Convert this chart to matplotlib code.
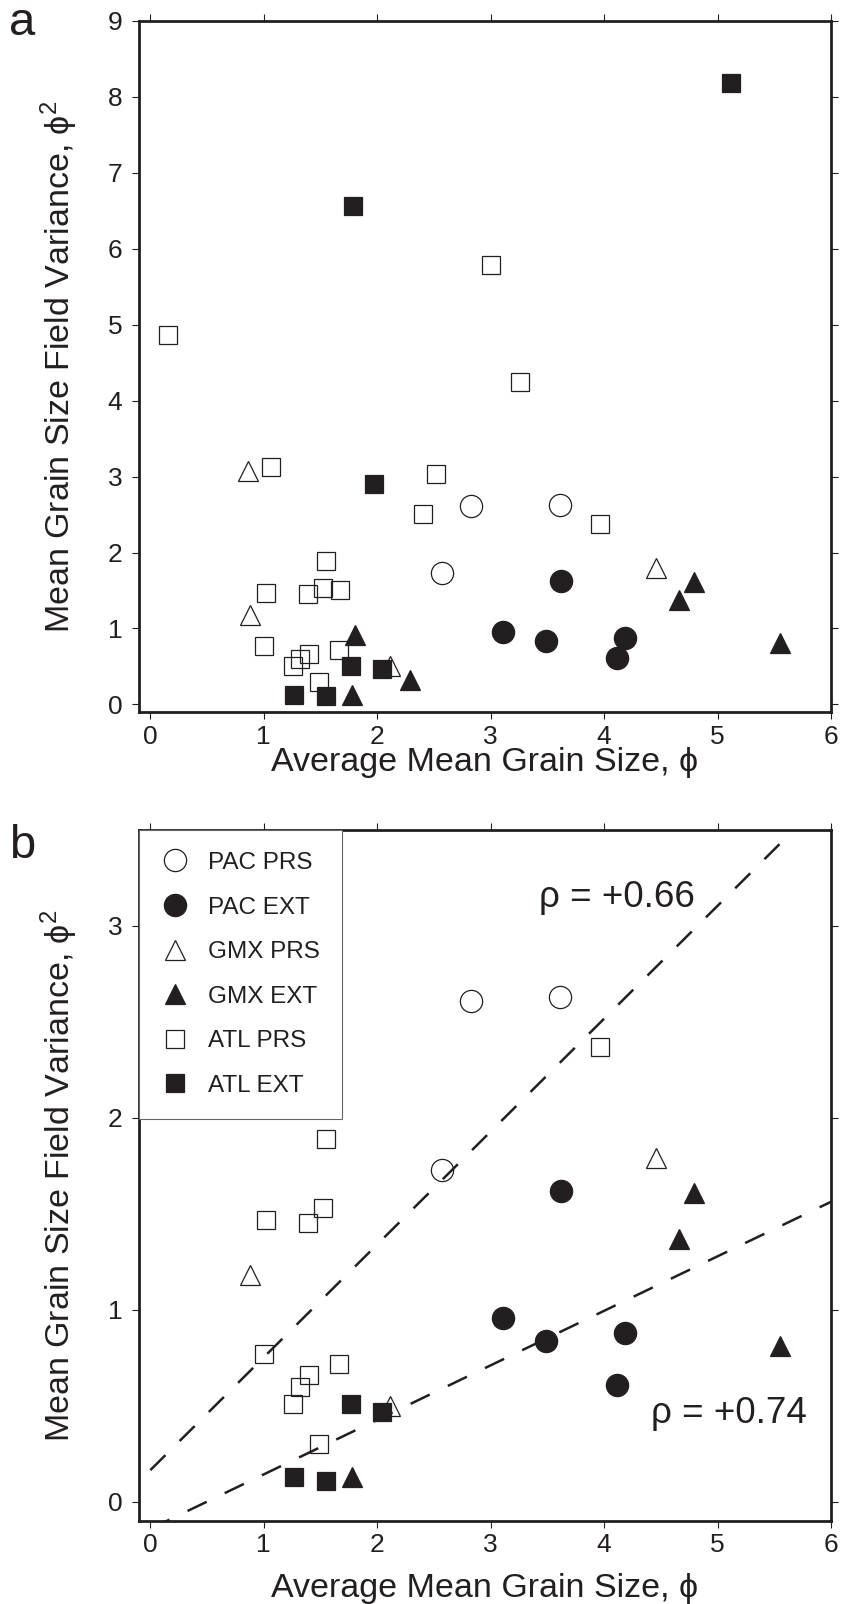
import numpy as np
import matplotlib
matplotlib.use('Agg')
import matplotlib.pyplot as plt

plt.rcParams['font.family'] = ['Liberation Sans', 'DejaVu Sans']
plt.rcParams['mathtext.fontset'] = 'custom'
plt.rcParams['mathtext.rm'] = 'Liberation Sans'
plt.rcParams['mathtext.it'] = 'Liberation Sans'

INK = '#231f20'

# Data (x = average mean grain size, y = field variance)
pac_prs_x = [2.83, 3.61, 2.57]
pac_prs_y = [2.61, 2.63, 1.73]
pac_prs_in_b = [True, True, True]

pac_ext_x = [3.62, 3.11, 3.49, 4.18, 4.11]
pac_ext_y = [1.62, 0.96, 0.84, 0.88, 0.61]
pac_ext_in_b = [True, True, True, True, True]

gmx_prs_x = [0.86, 0.88, 4.46, 2.11]
gmx_prs_y = [3.08, 1.18, 1.79, 0.50]
gmx_prs_in_b = [False, True, True, True]

gmx_ext_x = [4.79, 4.66, 5.55, 1.80, 2.29, 1.78]
gmx_ext_y = [1.61, 1.37, 0.81, 0.91, 0.32, 0.13]
gmx_ext_in_b = [True, True, True, False, False, True]

atl_prs_x = [0.16, 3.00, 3.26, 1.06, 2.52, 2.40, 3.96, 1.545, 1.02, 1.39, 1.52, 1.67,
             1.005, 1.665, 1.395, 1.315, 1.256, 1.485]
atl_prs_y = [4.87, 5.79, 4.25, 3.12, 3.03, 2.51, 2.37, 1.89, 1.47, 1.45, 1.53, 1.51,
             0.77, 0.72, 0.66, 0.60, 0.51, 0.30]
atl_prs_in_b = [False, False, False, False, False, False, True, True, True, True, True, False,
                True, True, True, True, True, True]

atl_ext_x = [5.12, 1.785, 1.97, 1.77, 2.04, 1.265, 1.55]
atl_ext_y = [8.18, 6.56, 2.90, 0.51, 0.47, 0.13, 0.11]
atl_ext_in_b = [False, False, False, True, True, True, True]

# dashed trend lines in panel b (slope, intercept) and their rho labels
prs_fit = (0.588, 0.165)
ext_fit = (0.284, -0.141)
rho_labels = ['ρ = +0.66', 'ρ = +0.74']

groups = [
    ('PAC PRS', pac_prs_x, pac_prs_y, pac_prs_in_b, 'o', False),
    ('PAC EXT', pac_ext_x, pac_ext_y, pac_ext_in_b, 'o', True),
    ('GMX PRS', gmx_prs_x, gmx_prs_y, gmx_prs_in_b, '^', False),
    ('GMX EXT', gmx_ext_x, gmx_ext_y, gmx_ext_in_b, '^', True),
    ('ATL PRS', atl_prs_x, atl_prs_y, atl_prs_in_b, 's', False),
    ('ATL EXT', atl_ext_x, atl_ext_y, atl_ext_in_b, 's', True),
]
msize = {'o': 16.0, '^': 14.0, 's': 13.0}

W, H = 844, 1604
fig = plt.figure(figsize=(W / 100, H / 100), dpi=100)
ax_a = fig.add_axes([139 / W, 1 - 712 / H, 692 / W, 691 / H])
ax_b = fig.add_axes([139 / W, 1 - 1521 / H, 692 / W, 691 / H])


def style_axes(ax, xlab_y):
    for s in ax.spines.values():
        s.set_linewidth(2.0)
        s.set_color(INK)
    ax.tick_params(direction='out', length=5, width=0.8, color=INK, labelsize=19,
                   labelcolor=INK, top=True, right=True)
    ax.tick_params(axis='y', pad=7)
    ax.tick_params(axis='x', pad=4)
    ax.set_xlim(-0.1, 6)
    ax.set_xticks(range(7))
    ax.set_xlabel('Average Mean Grain Size, ϕ', fontsize=24.5, color=INK)
    ax.set_ylabel('Mean Grain Size Field Variance, ϕ$^2$', fontsize=24.5, color=INK)
    ax.yaxis.set_label_coords(-0.085, 0.5)
    ax.xaxis.set_label_coords(0.5, xlab_y)


for name, x, y, inb, mk, filled in groups:
    x = np.array(x)
    y = np.array(y)
    inb = np.array(inb)
    kw = dict(linestyle='none', marker=mk, markersize=msize[mk], markeredgewidth=0.9,
              markeredgecolor=INK, markerfacecolor=INK if filled else 'none', zorder=3)
    ax_a.plot(x, y, **kw)
    ax_b.plot(x[inb], y[inb], label=name, **kw)

style_axes(ax_a, -0.051)
ax_a.set_ylim(-0.1, 9)
ax_a.set_yticks(range(10))

style_axes(ax_b, -0.075)
ax_b.set_ylim(-0.1, 3.5)
ax_b.set_yticks(range(4))

xx = np.array([0, 6.0])
for (m, c) in [prs_fit, ext_fit]:
    ax_b.plot(xx, m * xx + c, color=INK, lw=1.8, dashes=(8.5, 8), zorder=4)

ax_b.text(4.11, 3.15, rho_labels[0], fontsize=26.5, color=INK, ha='center', va='center')
ax_b.text(5.10, 0.46, rho_labels[1], fontsize=26.5, color=INK, ha='center', va='center')

leg = ax_b.legend(loc='upper left', borderaxespad=0, fontsize=17.5, frameon=True,
                  fancybox=False, borderpad=0.9, labelspacing=0.93, handlelength=1.2,
                  handletextpad=0.75, numpoints=1)
leg.get_frame().set_edgecolor('#666666')
leg.get_frame().set_linewidth(0.8)
leg.get_frame().set_alpha(1)
for t in leg.get_texts():
    t.set_color(INK)

fig.text(9 / W, 1 - 35 / H, 'a', fontsize=34, color=INK, va='baseline')
fig.text(9 / W, 1 - 858 / H, 'b', fontsize=34, color=INK, va='baseline')

fig.savefig('out.png', dpi=100)
